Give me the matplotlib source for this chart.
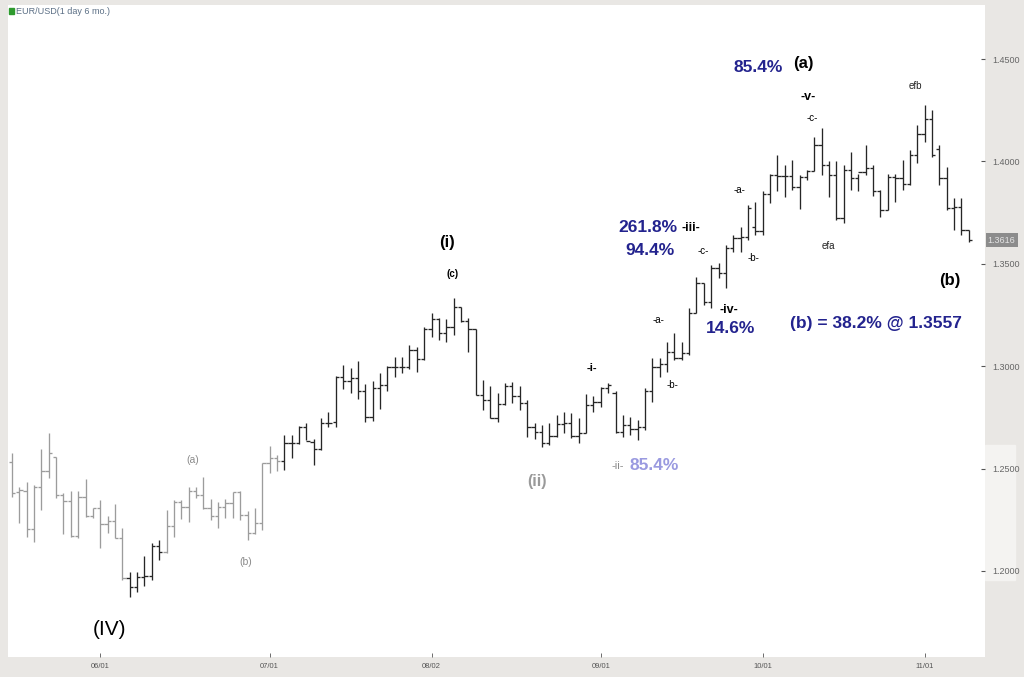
import matplotlib
matplotlib.use("Agg")
import matplotlib.pyplot as plt
from matplotlib.patches import Rectangle

# EUR/USD daily bars, May - Nov 2010
opens = [1.2534, 1.2385, 1.2391, 1.2204, 1.2412, 1.2488, 1.2555, 1.2371, 1.2342, 1.2172,
         1.2363, 1.2270, 1.2306, 1.2228, 1.2246, 1.2160, 1.1964, 1.1923, 1.1972, 1.1977,
         1.2122, 1.2094, 1.2220, 1.2338, 1.2311, 1.2392, 1.2371, 1.2309, 1.2270, 1.2311,
         1.2333, 1.2387, 1.2273, 1.2184, 1.2233, 1.2526, 1.2550, 1.2535, 1.2627, 1.2624,
         1.2701, 1.2632, 1.2594, 1.2724, 1.2730, 1.2949, 1.2929, 1.2941, 1.2880, 1.2750,
         1.2892, 1.2908, 1.2995, 1.2995, 1.2995, 1.3079, 1.3034, 1.3180, 1.3229, 1.3161,
         1.3190, 1.3291, 1.3222, 1.3180, 1.2859, 1.2835, 1.2749, 1.2815, 1.2905, 1.2855,
         1.2819, 1.2705, 1.2680, 1.2627, 1.2659, 1.2716, 1.2724, 1.2659, 1.2676, 1.2811,
         1.2827, 1.2892, 1.2870, 1.2680, 1.2713, 1.2692, 1.2705, 1.2880, 1.2998, 1.3009,
         1.3071, 1.3039, 1.3063, 1.3261, 1.3405, 1.3312, 1.3478, 1.3453, 1.3575, 1.3627,
         1.3632, 1.3680, 1.3661, 1.3842, 1.3933, 1.3930, 1.3930, 1.3876, 1.3925, 1.3953,
         1.4080, 1.3982, 1.3934, 1.3725, 1.3958, 1.3920, 1.3950, 1.3966, 1.3855, 1.3763,
         1.3925, 1.3917, 1.3888, 1.4031, 1.4136, 1.4205, 1.4060, 1.3917, 1.3771, 1.3779,
         1.3665]
highs = [1.2575, 1.2412, 1.2436, 1.2420, 1.2594, 1.2672, 1.2558, 1.2380, 1.2391, 1.2391,
         1.2448, 1.2306, 1.2347, 1.2269, 1.2326, 1.2212, 1.1997, 1.1997, 1.2073, 1.2138,
         1.2151, 1.2298, 1.2347, 1.2345, 1.2412, 1.2412, 1.2460, 1.2350, 1.2338, 1.2350,
         1.2387, 1.2390, 1.2294, 1.2306, 1.2529, 1.2610, 1.2565, 1.2664, 1.2664, 1.2708,
         1.2721, 1.2643, 1.2746, 1.2775, 1.2952, 1.3006, 1.2990, 1.3025, 1.2913, 1.2929,
         1.2965, 1.3001, 1.3046, 1.3043, 1.3104, 1.3095, 1.3193, 1.3258, 1.3234, 1.3229,
         1.3331, 1.3291, 1.3234, 1.3180, 1.2933, 1.2905, 1.2869, 1.2919, 1.2925, 1.2905,
         1.2835, 1.2721, 1.2713, 1.2721, 1.2762, 1.2778, 1.2770, 1.2746, 1.2864, 1.2856,
         1.2900, 1.2917, 1.2880, 1.2762, 1.2754, 1.2737, 1.2892, 1.3039, 1.3039, 1.3120,
         1.3161, 1.3120, 1.3283, 1.3437, 1.3405, 1.3494, 1.3502, 1.3590, 1.3641, 1.3680,
         1.3787, 1.3804, 1.3855, 1.3941, 1.4031, 1.3982, 1.4006, 1.3933, 1.3958, 1.4120,
         1.4161, 1.4000, 1.4000, 1.3982, 1.4047, 1.3941, 1.4080, 1.3982, 1.3860, 1.3941,
         1.3941, 1.4006, 1.4055, 1.4177, 1.4278, 1.4251, 1.4080, 1.3974, 1.3820, 1.3820,
         1.3665]
lows = [1.2363, 1.2233, 1.2165, 1.2143, 1.2298, 1.2452, 1.2355, 1.2179, 1.2168, 1.2160,
        1.2265, 1.2257, 1.2111, 1.2184, 1.2160, 1.1956, 1.1875, 1.1899, 1.1927, 1.1956,
        1.2054, 1.2090, 1.2168, 1.2252, 1.2241, 1.2355, 1.2301, 1.2249, 1.2208, 1.2257,
        1.2257, 1.2249, 1.2151, 1.2180, 1.2200, 1.2477, 1.2490, 1.2493, 1.2550, 1.2620,
        1.2640, 1.2518, 1.2590, 1.2705, 1.2705, 1.2887, 1.2868, 1.2838, 1.2729, 1.2734,
        1.2790, 1.2880, 1.2946, 1.2965, 1.2985, 1.2973, 1.3030, 1.3144, 1.3128, 1.3117,
        1.3152, 1.3217, 1.3071, 1.2859, 1.2786, 1.2746, 1.2729, 1.2811, 1.2819, 1.2786,
        1.2656, 1.2643, 1.2607, 1.2615, 1.2656, 1.2672, 1.2648, 1.2627, 1.2676, 1.2775,
        1.2802, 1.2869, 1.2676, 1.2656, 1.2664, 1.2640, 1.2688, 1.2827, 1.2949, 1.2973,
        1.3030, 1.3030, 1.3055, 1.3258, 1.3299, 1.3283, 1.3429, 1.3380, 1.3559, 1.3559,
        1.3616, 1.3641, 1.3641, 1.3795, 1.3855, 1.3828, 1.3860, 1.3770, 1.3909, 1.3953,
        1.3934, 1.3828, 1.3714, 1.3697, 1.3860, 1.3855, 1.3934, 1.3830, 1.3730, 1.3763,
        1.3804, 1.3860, 1.3885, 1.3991, 1.4096, 1.4023, 1.3885, 1.3763, 1.3665, 1.3641,
        1.3608]
closes = [1.2382, 1.2395, 1.2204, 1.2412, 1.2488, 1.2575, 1.2371, 1.2342, 1.2172, 1.2363,
          1.2270, 1.2306, 1.2228, 1.2246, 1.2160, 1.1964, 1.1923, 1.1972, 1.1977, 1.2122,
          1.2094, 1.2220, 1.2338, 1.2311, 1.2392, 1.2371, 1.2309, 1.2270, 1.2311, 1.2333,
          1.2387, 1.2273, 1.2184, 1.2233, 1.2526, 1.2550, 1.2535, 1.2627, 1.2624, 1.2701,
          1.2636, 1.2594, 1.2724, 1.2724, 1.2949, 1.2929, 1.2941, 1.2880, 1.2750, 1.2892,
          1.2908, 1.2995, 1.2995, 1.2995, 1.3079, 1.3034, 1.3180, 1.3229, 1.3161, 1.3190,
          1.3291, 1.3222, 1.3180, 1.2859, 1.2835, 1.2749, 1.2815, 1.2905, 1.2855, 1.2819,
          1.2705, 1.2680, 1.2627, 1.2659, 1.2716, 1.2724, 1.2659, 1.2676, 1.2811, 1.2827,
          1.2892, 1.2909, 1.2680, 1.2713, 1.2692, 1.2705, 1.2880, 1.2998, 1.3009, 1.3071,
          1.3039, 1.3063, 1.3261, 1.3405, 1.3312, 1.3478, 1.3453, 1.3575, 1.3627, 1.3632,
          1.3774, 1.3661, 1.3842, 1.3933, 1.3930, 1.3930, 1.3876, 1.3925, 1.3953, 1.4080,
          1.3982, 1.3934, 1.3725, 1.3958, 1.3920, 1.3950, 1.3966, 1.3855, 1.3763, 1.3925,
          1.3917, 1.3888, 1.4031, 1.4136, 1.4205, 1.4031, 1.3917, 1.3771, 1.3779, 1.3665,
          1.3616]

date_ticks = [12, 35, 57, 80, 102, 124]
date_labels = ["06/01", "07/01", "08/02", "09/01", "10/01", "11/01"]
price_ticks = [1.20, 1.25, 1.30, 1.35, 1.40, 1.45]
last_price = closes[-1]

plt.rcParams['font.family'] = ['Liberation Sans', 'DejaVu Sans']

fig = plt.figure(figsize=(10.24, 6.77), dpi=100)
fig.patch.set_facecolor('#e9e7e4')
# lighter patch in the right panel (behind the tick labels)
fig.patches.append(Rectangle((985 / 1024, (677 - 580) / 677), 30 / 1024, 135 / 677,
                             transform=fig.transFigure, color='#f4f3f1', zorder=-5))

ax = fig.add_axes([8 / 1024, 20 / 677, 977 / 1024, 652 / 677])
ax.set_facecolor('white')

n = len(closes)
xs = list(range(n))
colors = []
for i in xs:
    if i <= 15 or 21 <= i <= 36:
        colors.append('#9c9c9c')
    else:
        colors.append('#262626')

ax.vlines(xs, lows, highs, colors=colors, linewidth=0.95)
ax.hlines(opens, [x - 0.45 for x in xs], xs, colors=colors, linewidth=0.95)
ax.hlines(closes, xs, [x + 0.45 for x in xs], colors=colors, linewidth=0.95)

ax.set_xlim(-0.54, 132.2)
ax.set_ylim(1.1580, 1.4764)

ax.set_xticks(date_ticks)
ax.set_xticklabels(date_labels)
ax.yaxis.tick_right()
ax.set_yticks(price_ticks)
ax.set_yticklabels(["%.4f" % p for p in price_ticks])
ax.tick_params(axis='x', direction='in', length=3, width=0.6, color='#555555',
               labelsize=5.5, labelcolor='#555555', pad=4)
ax.tick_params(axis='y', direction='in', length=3, width=0.8, color='#555555',
               labelsize=6.5, labelcolor='#666666', pad=5)
for s in ax.spines.values():
    s.set_visible(False)

# last price marker on the right scale
ax.annotate("%.4f" % last_price, xy=(1.0, last_price), xycoords=('axes fraction', 'data'),
            xytext=(2, 0), textcoords='offset points', ha='left', va='center',
            fontsize=6.5, color='#e4e4e4',
            bbox=dict(boxstyle='square,pad=0.25', fc='#8c8c8c', ec='none'),
            annotation_clip=False)

# header
fig.patches.append(Rectangle((9 / 1024, (677 - 14) / 677), 5 / 1024, 6 / 677,
                             transform=fig.transFigure, color='#2e9a2e'))
fig.text(16 / 1024, 1 - 11 / 677, "EUR/USD(1 day 6 mo.)", fontsize=6.5,
         color='#5b6f85', va='center', ha='left')

navy = '#23238e'
labels = [
    ("(IV)", 13.2, 1.1712, 15, 'normal', 'black'),
    ("(a)", 24.6, 1.2542, 7.5, 'normal', '#8a8a8a'),
    ("(b)", 31.8, 1.2044, 7.5, 'normal', '#8a8a8a'),
    ("(i)", 59.1, 1.3606, 12, 'bold', 'black'),
    ("(c)", 59.8, 1.3450, 7, 'bold', 'black'),
    ("(ii)", 71.3, 1.2439, 11.5, 'bold', '#9a9a9a'),
    ("-i-", 78.8, 1.2991, 8, 'bold', 'black'),
    ("-ii-", 82.3, 1.2513, 8, 'normal', '#8a8a8a'),
    ("85.4%", 87.2, 1.2513, 12.5, 'bold', '#9a9ae0'),
    ("-a-", 87.8, 1.3226, 7, 'normal', 'black'),
    ("-b-", 89.8, 1.2908, 7, 'normal', 'black'),
    ("261.8%", 86.4, 1.3675, 12.5, 'bold', navy),
    ("-iii-", 92.3, 1.3675, 9, 'bold', 'black'),
    ("94.4%", 86.7, 1.3567, 12.5, 'bold', navy),
    ("-c-", 93.9, 1.3563, 7, 'normal', 'black'),
    ("-iv-", 97.4, 1.3274, 9, 'bold', 'black'),
    ("14.6%", 97.6, 1.3182, 12.5, 'bold', navy),
    ("-a-", 98.9, 1.3860, 7, 'normal', 'black'),
    ("-b-", 100.7, 1.3528, 7, 'normal', 'black'),
    ("85.4%", 101.4, 1.4461, 12.5, 'bold', navy),
    ("(a)", 107.5, 1.4476, 12, 'bold', 'black'),
    ("-v-", 108.2, 1.4314, 9, 'bold', 'black'),
    ("-c-", 108.7, 1.4212, 7, 'normal', 'black'),
    ("efa", 110.9, 1.3587, 7, 'normal', '#222222'),
    ("efb", 122.8, 1.4368, 7, 'normal', '#222222'),
    ("(b)", 127.4, 1.3421, 12, 'bold', 'black'),
    ("(b) = 38.2% @ 1.3557", 117.4, 1.3211, 12.5, 'bold', navy),
]
for txt, x, y, size, weight, col in labels:
    ax.text(x, y, txt, fontsize=size, fontweight=weight, color=col,
            ha='center', va='center')

fig.savefig("out.png", dpi=100, facecolor=fig.get_facecolor())
